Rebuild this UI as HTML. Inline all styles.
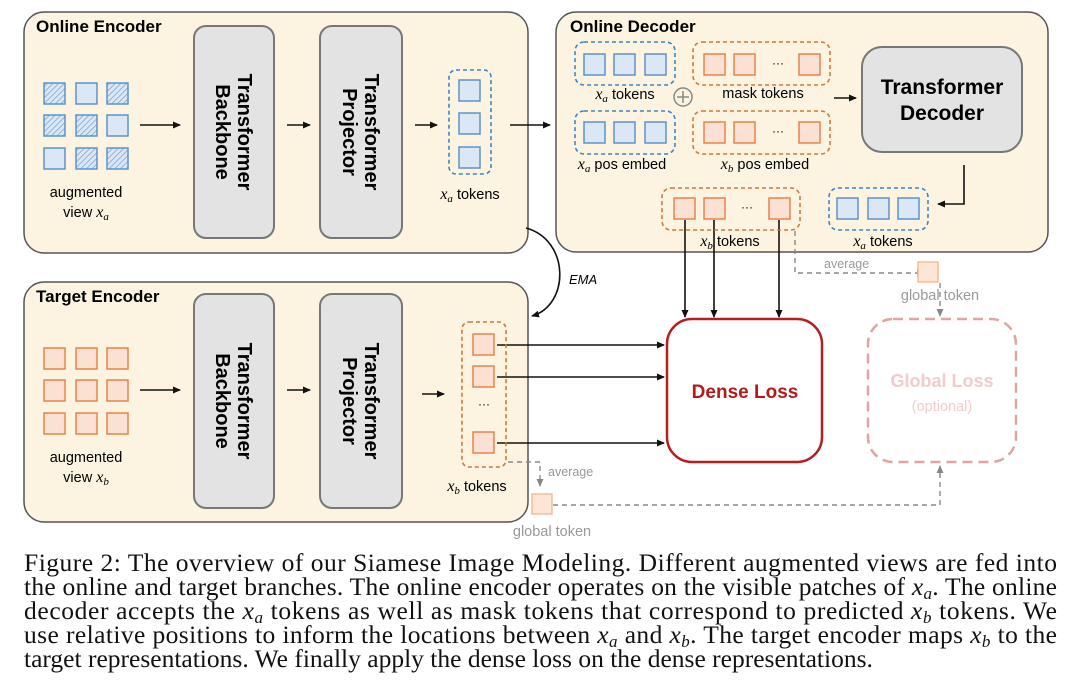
<!DOCTYPE html>
<html><head><meta charset="utf-8"><style>
html,body{margin:0;padding:0;background:#fff;width:1080px;height:698px;overflow:hidden}
svg{display:block}
.s{font-family:"Liberation Sans",sans-serif}
.m{font-family:"Liberation Serif",serif;font-style:italic}
.c{font-family:"Liberation Serif",serif;font-size:25.5px;fill:#111}
</style></head><body>
<svg width="1080" height="698" viewBox="0 0 1080 698" xmlns="http://www.w3.org/2000/svg">
<defs>
<marker id="a" markerWidth="8" markerHeight="8" refX="7" refY="4" orient="auto" markerUnits="userSpaceOnUse"><path d="M0,0.5 L8,4 L0,7.5z" fill="#111"/></marker>
<marker id="g" markerWidth="8" markerHeight="8" refX="7" refY="4" orient="auto" markerUnits="userSpaceOnUse"><path d="M0,0.5 L8,4 L0,7.5z" fill="#888"/></marker>
<pattern id="h" width="4" height="4" patternUnits="userSpaceOnUse" patternTransform="rotate(45)"><rect width="4" height="4" fill="#dbe7f5"/><line x1="0" y1="0" x2="0" y2="4" stroke="#7aa6d6" stroke-width="1.6"/></pattern>
</defs>

<rect x="24" y="12" width="504" height="241" rx="20" fill="#fcf4e1" stroke="#555" stroke-width="1.5"/>
<rect x="556" y="12" width="492" height="240" rx="20" fill="#fcf4e1" stroke="#555" stroke-width="1.5"/>
<rect x="24" y="282" width="504" height="240" rx="20" fill="#fcf4e1" stroke="#555" stroke-width="1.5"/>
<text x="36" y="32" class="s" font-size="17" font-weight="bold">Online Encoder</text>
<text x="570" y="32" class="s" font-size="17" font-weight="bold">Online Decoder</text>
<text x="36" y="302" class="s" font-size="17" font-weight="bold">Target Encoder</text>

<g stroke="#5b93cc" stroke-width="1.5">
<rect x="44" y="83" width="21" height="21" fill="url(#h)"/><rect x="76" y="83" width="21" height="21" fill="#dbe7f5"/><rect x="107" y="83" width="21" height="21" fill="url(#h)"/>
<rect x="44" y="115" width="21" height="21" fill="url(#h)"/><rect x="76" y="115" width="21" height="21" fill="url(#h)"/><rect x="107" y="115" width="21" height="21" fill="#dbe7f5"/>
<rect x="44" y="148" width="21" height="21" fill="#dbe7f5"/><rect x="76" y="148" width="21" height="21" fill="url(#h)"/><rect x="107" y="148" width="21" height="21" fill="url(#h)"/>
</g>
<text x="86" y="197" class="s" font-size="14.5" text-anchor="middle">augmented</text>
<text x="86" y="217" class="s" font-size="14.5" text-anchor="middle">view <tspan class="m" font-size="16">x</tspan><tspan class="m" font-size="11" dy="3">a</tspan></text>

<g stroke="#e8834a" stroke-width="1.5" fill="#fbe1d3">
<rect x="44" y="348" width="21" height="21"/><rect x="76" y="348" width="21" height="21"/><rect x="107" y="348" width="21" height="21"/>
<rect x="44" y="380" width="21" height="21"/><rect x="76" y="380" width="21" height="21"/><rect x="107" y="380" width="21" height="21"/>
<rect x="44" y="413" width="21" height="21"/><rect x="76" y="413" width="21" height="21"/><rect x="107" y="413" width="21" height="21"/>
</g>
<text x="86" y="462" class="s" font-size="14.5" text-anchor="middle">augmented</text>
<text x="86" y="482" class="s" font-size="14.5" text-anchor="middle">view <tspan class="m" font-size="16">x</tspan><tspan class="m" font-size="11" dy="3">b</tspan></text>

<g fill="#e3e3e3" stroke="#777" stroke-width="2">
<rect x="194" y="26" width="80" height="212" rx="12"/><rect x="320" y="26" width="82" height="212" rx="12"/>
<rect x="194" y="294" width="80" height="214" rx="12"/><rect x="320" y="294" width="82" height="214" rx="12"/>
<rect x="862" y="47" width="160" height="105" rx="20"/>
</g>
<g class="s" font-size="20" font-weight="bold" text-anchor="middle">
<text transform="translate(234,132) rotate(90)"><tspan x="0" y="-4">Transformer</tspan><tspan x="0" y="18">Backbone</tspan></text>
<text transform="translate(361,132) rotate(90)"><tspan x="0" y="-4">Transformer</tspan><tspan x="0" y="18">Projector</tspan></text>
<text transform="translate(234,401) rotate(90)"><tspan x="0" y="-4">Transformer</tspan><tspan x="0" y="18">Backbone</tspan></text>
<text transform="translate(361,401) rotate(90)"><tspan x="0" y="-4">Transformer</tspan><tspan x="0" y="18">Projector</tspan></text>
<text x="942" y="94" font-size="21">Transformer</text>
<text x="942" y="120" font-size="21">Decoder</text>
</g>

<g stroke="#111" stroke-width="1.6" marker-end="url(#a)">
<line x1="140" y1="125" x2="180" y2="125"/><line x1="287" y1="125" x2="310" y2="125"/><line x1="415" y1="125" x2="437" y2="125"/>
<line x1="510" y1="125" x2="550" y2="125"/>
<line x1="140" y1="390" x2="180" y2="390"/><line x1="287" y1="390" x2="310" y2="390"/><line x1="422" y1="394" x2="444" y2="394"/>
<line x1="834" y1="98" x2="856" y2="98"/>
<polyline points="964,165 964,204 938,204" fill="none"/>
<line x1="497" y1="345" x2="664" y2="345"/><line x1="497" y1="377" x2="664" y2="377"/><line x1="497" y1="443" x2="664" y2="443"/>
<line x1="685" y1="220" x2="685" y2="317"/><line x1="714" y1="220" x2="714" y2="317"/><line x1="779" y1="220" x2="779" y2="317"/>
<path d="M526,228 C570,240 570,305 532,316" fill="none"/>
</g>
<text x="569" y="284" class="s" font-size="13" font-style="italic">EMA</text>

<rect x="449" y="70" width="42" height="104" rx="7" fill="none" stroke="#3d86c4" stroke-width="1.6" stroke-dasharray="4,3"/>
<g stroke="#5b93cc" stroke-width="1.5" fill="#dbe7f5"><rect x="459" y="80" width="21" height="21"/><rect x="459" y="113" width="21" height="21"/><rect x="459" y="147" width="21" height="21"/></g>
<text x="470" y="199" class="s" font-size="14.5" text-anchor="middle"><tspan class="m" font-size="16">x</tspan><tspan class="m" font-size="11" dy="3">a</tspan><tspan dy="-3"> tokens</tspan></text>

<rect x="462" y="322" width="44" height="145" rx="7" fill="none" stroke="#d07a3a" stroke-width="1.6" stroke-dasharray="4,3"/>
<g stroke="#e8834a" stroke-width="1.5" fill="#fbe1d3"><rect x="473" y="334" width="21" height="21"/><rect x="473" y="366" width="21" height="21"/><rect x="473" y="432" width="21" height="21"/></g>
<text x="484" y="408" class="s" font-size="12" text-anchor="middle">···</text>
<text x="477" y="491" class="s" font-size="14.5" text-anchor="middle"><tspan class="m" font-size="16">x</tspan><tspan class="m" font-size="11" dy="3">b</tspan><tspan dy="-3"> tokens</tspan></text>

<g fill="none" stroke-width="1.6" stroke-dasharray="4,3">
<rect x="575" y="42" width="100" height="43" rx="9" stroke="#3d86c4"/>
<rect x="575" y="111" width="100" height="43" rx="9" stroke="#3d86c4"/>
<rect x="829" y="188" width="99" height="42" rx="9" stroke="#3d86c4"/>
<rect x="693" y="42" width="137" height="43" rx="9" stroke="#d07a3a"/>
<rect x="693" y="111" width="137" height="43" rx="9" stroke="#d07a3a"/>
<rect x="662" y="188" width="138" height="42" rx="9" stroke="#d07a3a"/>
</g>
<g stroke="#5b93cc" stroke-width="1.5" fill="#dbe7f5">
<rect x="584" y="54" width="21" height="21"/><rect x="614" y="54" width="21" height="21"/><rect x="645" y="54" width="21" height="21"/>
<rect x="584" y="122" width="21" height="21"/><rect x="614" y="122" width="21" height="21"/><rect x="645" y="122" width="21" height="21"/>
<rect x="837" y="198" width="21" height="21"/><rect x="868" y="198" width="21" height="21"/><rect x="898" y="198" width="21" height="21"/>
</g>
<g stroke="#e8834a" stroke-width="1.5" fill="#fbe1d3">
<rect x="704" y="54" width="21" height="21"/><rect x="734" y="54" width="21" height="21"/><rect x="799" y="54" width="21" height="21"/>
<rect x="704" y="122" width="21" height="21"/><rect x="734" y="122" width="21" height="21"/><rect x="799" y="122" width="21" height="21"/>
<rect x="674" y="198" width="21" height="21"/><rect x="704" y="198" width="21" height="21"/><rect x="769" y="198" width="21" height="21"/>
</g>
<g class="s" font-size="12" text-anchor="middle"><text x="778" y="67">···</text><text x="778" y="135">···</text><text x="747" y="211">···</text></g>
<circle cx="683" cy="97" r="9" fill="none" stroke="#888" stroke-width="1.5"/><path d="M677,97h12M683,91v12" stroke="#888" stroke-width="1.5"/>
<g class="s" font-size="14.5" text-anchor="middle">
<text x="625" y="99"><tspan class="m" font-size="16">x</tspan><tspan class="m" font-size="11" dy="3">a</tspan><tspan dy="-3"> tokens</tspan></text>
<text x="763" y="98">mask tokens</text>
<text x="622" y="169"><tspan class="m" font-size="16">x</tspan><tspan class="m" font-size="11" dy="3">a</tspan><tspan dy="-3"> pos embed</tspan></text>
<text x="765" y="169"><tspan class="m" font-size="16">x</tspan><tspan class="m" font-size="11" dy="3">b</tspan><tspan dy="-3"> pos embed</tspan></text>
<text x="730" y="246"><tspan class="m" font-size="16">x</tspan><tspan class="m" font-size="11" dy="3">b</tspan><tspan dy="-3"> tokens</tspan></text>
<text x="883" y="246"><tspan class="m" font-size="16">x</tspan><tspan class="m" font-size="11" dy="3">a</tspan><tspan dy="-3"> tokens</tspan></text>
</g>

<g stroke="#888" stroke-width="1.4" stroke-dasharray="5,4" fill="none" marker-end="url(#g)">
<polyline points="795,231 795,273 924,273"/>
<line x1="940" y1="283" x2="940" y2="316"/>
<polyline points="508,462 540,462 540,486"/>
<polyline points="553,505 940,505 940,466"/>
</g>
<rect x="918" y="262" width="20" height="20" fill="#fde6d6" stroke="#f3b896" stroke-width="1.4"/>
<rect x="532" y="494" width="20" height="20" fill="#fde6d6" stroke="#f3b896" stroke-width="1.4"/>
<g class="s" font-size="12.5" fill="#999"><text x="824" y="268">average</text><text x="548" y="476">average</text></g>
<g class="s" font-size="14.5" fill="#999" text-anchor="middle"><text x="940" y="300">global token</text><text x="552" y="536">global token</text></g>

<rect x="667" y="319" width="155" height="143" rx="25" fill="#fff" stroke="#b81c1c" stroke-width="2.5"/>
<text x="745" y="398" class="s" font-size="19" font-weight="bold" fill="#b01c1c" text-anchor="middle">Dense Loss</text>
<rect x="868" y="319" width="148" height="143" rx="25" fill="#fff" stroke="#e3a3a3" stroke-width="2.5" stroke-dasharray="10,6"/>
<text x="942" y="387" class="s" font-size="18" font-weight="bold" fill="#f2cccc" text-anchor="middle">Global Loss</text>
<text x="942" y="411" class="s" font-size="14.5" fill="#f2cccc" text-anchor="middle">(optional)</text>

<g class="c">
<text x="24" y="571" textLength="1033" lengthAdjust="spacing">Figure 2: The overview of our Siamese Image Modeling. Different augmented views are fed into</text>
<text x="24" y="595" textLength="1033" lengthAdjust="spacing">the online and target branches. The online encoder operates on the visible patches of <tspan font-style="italic">x<tspan font-size="17" dy="4">a</tspan></tspan><tspan dy="-4">.</tspan> The online</text>
<text x="24" y="619" textLength="1033" lengthAdjust="spacing">decoder accepts the <tspan font-style="italic">x<tspan font-size="17" dy="4">a</tspan></tspan><tspan dy="-4"> tokens as well as mask tokens that correspond to predicted </tspan><tspan font-style="italic">x<tspan font-size="17" dy="4">b</tspan></tspan><tspan dy="-4"> tokens. We</tspan></text>
<text x="24" y="643" textLength="1033" lengthAdjust="spacing">use relative positions to inform the locations between <tspan font-style="italic">x<tspan font-size="17" dy="4">a</tspan></tspan><tspan dy="-4"> and </tspan><tspan font-style="italic">x<tspan font-size="17" dy="4">b</tspan></tspan><tspan dy="-4">. The target encoder maps </tspan><tspan font-style="italic">x<tspan font-size="17" dy="4">b</tspan></tspan><tspan dy="-4"> to the</tspan></text>
<text x="24" y="667">target representations. We finally apply the dense loss on the dense representations.</text>
</g>
</svg>
</body></html>
